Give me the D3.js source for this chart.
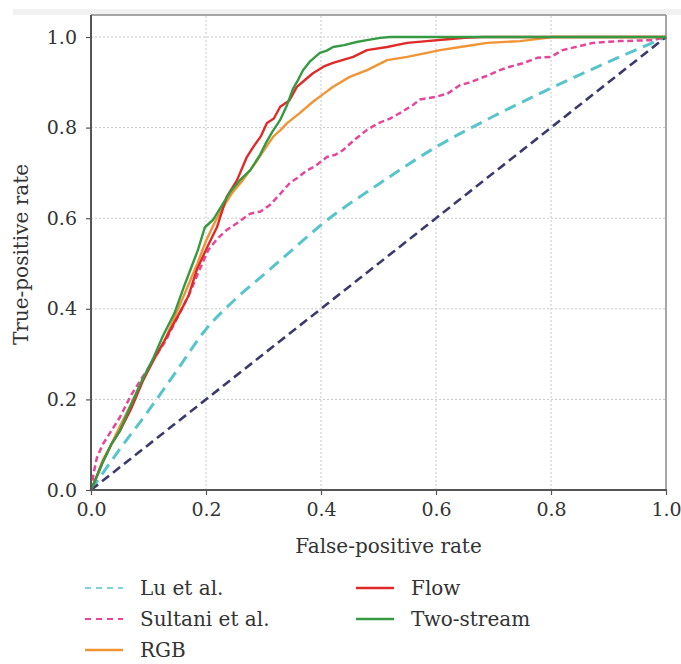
<!DOCTYPE html>
<html><head><meta charset="utf-8">
<script src="https://cdn.jsdelivr.net/npm/d3@7"></script>
<style>body{margin:0;background:#fff}svg{display:block}
svg text{font-family:"DejaVu Serif","Liberation Serif",serif !important;fill:#333}</style>
</head><body>
<svg id="c" width="681" height="664"></svg>
<script>
const xTicks=[0,0.2,0.4,0.6,0.8,1.0];
const yTicks=[0,0.2,0.4,0.6,0.8,1.0];
const seriesNames=["Lu et al.","Sultani et al.","RGB","Flow","Two-stream"];

const diagFpr=[0,1], diagTpr=[0,1];
const luFpr=[0,0.05,0.1,0.15,0.2,0.25,0.3,0.35,0.4,0.5,0.6,0.7,0.8,0.9,1.0];
const luTpr=[0,0.09,0.175,0.265,0.355,0.42,0.475,0.53,0.585,0.675,0.757,0.825,0.887,0.945,1.0];
const sulFpr=[0,0.005,0.01,0.02,0.03,0.05,0.07,0.09,0.11,0.13,0.15,0.17,0.19,0.204,0.22,0.236,0.255,0.277,0.295,0.311,0.33,0.346,0.36,0.376,0.39,0.41,0.425,0.438,0.46,0.48,0.5,0.52,0.537,0.56,0.572,0.6,0.62,0.642,0.66,0.677,0.69,0.711,0.73,0.751,0.776,0.8,0.82,0.85,0.873,0.92,0.977,1.0];
const sulTpr=[0,0.04,0.07,0.10,0.12,0.16,0.21,0.25,0.29,0.33,0.38,0.43,0.49,0.53,0.555,0.574,0.59,0.61,0.615,0.629,0.655,0.678,0.69,0.706,0.715,0.735,0.74,0.75,0.775,0.795,0.81,0.82,0.832,0.85,0.862,0.868,0.875,0.894,0.9,0.909,0.915,0.927,0.935,0.942,0.954,0.956,0.971,0.98,0.987,0.991,0.993,1.0];
const rgbFpr=[0,0.01,0.02,0.035,0.05,0.07,0.09,0.11,0.128,0.145,0.165,0.185,0.2,0.215,0.23,0.245,0.264,0.285,0.306,0.317,0.33,0.341,0.363,0.386,0.405,0.421,0.45,0.48,0.515,0.55,0.584,0.607,0.642,0.689,0.746,0.793,0.8,1.0];
const rgbTpr=[0,0.03,0.065,0.1,0.14,0.19,0.245,0.29,0.33,0.38,0.44,0.5,0.55,0.59,0.625,0.655,0.684,0.72,0.76,0.78,0.795,0.81,0.832,0.857,0.875,0.89,0.912,0.927,0.949,0.956,0.965,0.971,0.978,0.987,0.991,0.998,1.0,1.0];
const flowFpr=[0,0.01,0.02,0.035,0.05,0.07,0.09,0.11,0.128,0.145,0.158,0.17,0.184,0.202,0.219,0.236,0.254,0.271,0.282,0.295,0.306,0.318,0.329,0.345,0.358,0.372,0.386,0.405,0.421,0.44,0.456,0.48,0.515,0.55,0.584,0.62,0.65,0.68,0.8,1.0];
const flowTpr=[0,0.03,0.06,0.1,0.13,0.18,0.24,0.29,0.33,0.37,0.40,0.43,0.486,0.536,0.58,0.647,0.684,0.735,0.757,0.78,0.81,0.82,0.846,0.86,0.89,0.905,0.92,0.935,0.943,0.95,0.956,0.971,0.978,0.987,0.991,0.995,0.998,1.0,1.0,1.0];
const twoFpr=[0,0.01,0.02,0.035,0.05,0.07,0.09,0.108,0.125,0.145,0.162,0.174,0.186,0.198,0.212,0.228,0.242,0.259,0.277,0.294,0.305,0.315,0.329,0.341,0.351,0.36,0.369,0.38,0.398,0.41,0.421,0.44,0.462,0.48,0.503,0.52,0.6,0.8,1.0];
const twoTpr=[0,0.03,0.06,0.1,0.13,0.19,0.245,0.29,0.34,0.39,0.45,0.49,0.53,0.58,0.596,0.629,0.658,0.684,0.706,0.74,0.768,0.79,0.817,0.85,0.885,0.905,0.927,0.945,0.965,0.97,0.978,0.982,0.989,0.993,0.998,1.0,1.0,1.0,1.0];

const svg=d3.select("#c");
const font='"DejaVu Serif","Liberation Serif",serif';
const L=91,R=666,B=490;
const x=d3.scaleLinear().domain([0,1]).range([L,R]);
const y=d3.scaleLinear().domain([0,1]).range([B,37]);
const yTopVal=y.invert(15);

svg.append("rect").attr("x",13).attr("y",9).attr("width",668).attr("height",6).attr("fill","#f1f1f1");

// grid
const g=svg.append("g");
g.selectAll(".gx").data(xTicks.filter(d=>d>0&&d<1)).enter().append("line")
 .attr("x1",d=>x(d)).attr("x2",d=>x(d)).attr("y1",y(0)).attr("y2",y(yTopVal))
 .attr("stroke","#c8c8c8").attr("stroke-width",1).attr("stroke-dasharray","2,2");
g.selectAll(".gy").data(yTicks.filter(d=>d>0)).enter().append("line")
 .attr("y1",d=>y(d)).attr("y2",d=>y(d)).attr("x1",x(0)).attr("x2",x(1))
 .attr("stroke","#c8c8c8").attr("stroke-width",1).attr("stroke-dasharray","2,2");

// frame top/right
svg.append("line").attr("x1",x(0)).attr("x2",x(1)).attr("y1",y(yTopVal)).attr("y2",y(yTopVal)).attr("stroke","#8a8a8a").attr("stroke-width",1.5);
svg.append("line").attr("x1",x(1)).attr("x2",x(1)).attr("y1",y(yTopVal)).attr("y2",y(0)).attr("stroke","#8a8a8a").attr("stroke-width",1.5);

function pts(fx,ty){return fx.map((v,i)=>[v,ty[i]]);}
const line=d3.line().x(d=>x(d[0])).y(d=>y(d[1]));
const smooth=d3.line().x(d=>x(d[0])).y(d=>y(d[1])).curve(d3.curveMonotoneX);

const series=[
 {d:pts(luFpr,luTpr),c:"#58c4cb",w:3,dash:"12,7",gen:smooth},
 {d:pts(sulFpr,sulTpr),c:"#e4479a",w:2.5,dash:"6,3.5",gen:line},
 {d:pts(diagFpr,diagTpr),c:"#3a3a6c",w:2.6,dash:"9,5",gen:line},
 {d:pts(rgbFpr,rgbTpr),c:"#f19434",w:2.4,dash:null,gen:line},
 {d:pts(flowFpr,flowTpr),c:"#e02a2a",w:2.4,dash:null,gen:line},
 {d:pts(twoFpr,twoTpr),c:"#359a42",w:2.4,dash:null,gen:line}
];
series.forEach(s=>{
 const p=svg.append("path").attr("d",s.gen(s.d)).attr("fill","none").attr("stroke",s.c).attr("stroke-width",s.w).attr("stroke-linejoin","round");
 if(s.dash)p.attr("stroke-dasharray",s.dash);
});

// axes
const ax=svg.append("g").attr("transform",`translate(0,${B})`).call(d3.axisBottom(x).tickValues(xTicks).tickFormat(d3.format(".1f")).tickSize(5).tickPadding(8));
const ay=svg.append("g").attr("transform",`translate(${L},0)`).call(d3.axisLeft(y).tickValues(yTicks).tickFormat(d3.format(".1f")).tickSize(5).tickPadding(9));
[ax,ay].forEach(a=>{
 a.select(".domain").remove();
 a.selectAll("line").attr("stroke","#555").attr("stroke-width",1.2);
 a.selectAll("text").attr("font-size",19).attr("fill","#333");
});
svg.append("line").attr("x1",L).attr("x2",R+1).attr("y1",B).attr("y2",B).attr("stroke","#555").attr("stroke-width",2);
svg.append("line").attr("x1",L).attr("x2",L).attr("y1",B+1).attr("y2",15).attr("stroke","#555").attr("stroke-width",2);

svg.append("text").attr("x",(L+R)/2+10).attr("y",553).attr("text-anchor","middle").attr("font-size",20).attr("fill","#333").text("False-positive rate");
svg.append("text").attr("transform",`translate(28,${(B+15)/2+2}) rotate(-90)`).attr("text-anchor","middle").attr("font-size",20).attr("fill","#333").text("True-positive rate");

// legend
const legPos=[[85,588],[85,619],[85,650],[356,588],[356,619]];
const legStyle=[{c:"#58c4cb",dash:"6,5",w:1.6},{c:"#e4479a",dash:"6,5",w:2},{c:"#f19434",dash:null,w:2.4},{c:"#e02a2a",dash:null,w:2.6},{c:"#359a42",dash:null,w:2.4}];
seriesNames.forEach((n,i)=>{
 const [lx,ly]=legPos[i];
 const l=svg.append("line").attr("x1",lx).attr("x2",lx+38).attr("y1",ly).attr("y2",ly).attr("stroke",legStyle[i].c).attr("stroke-width",legStyle[i].w);
 if(legStyle[i].dash)l.attr("stroke-dasharray",legStyle[i].dash);
 svg.append("text").attr("x",lx+55).attr("y",ly+7).attr("font-size",20).attr("fill","#333").text(n);
});
</script>
</body></html>
